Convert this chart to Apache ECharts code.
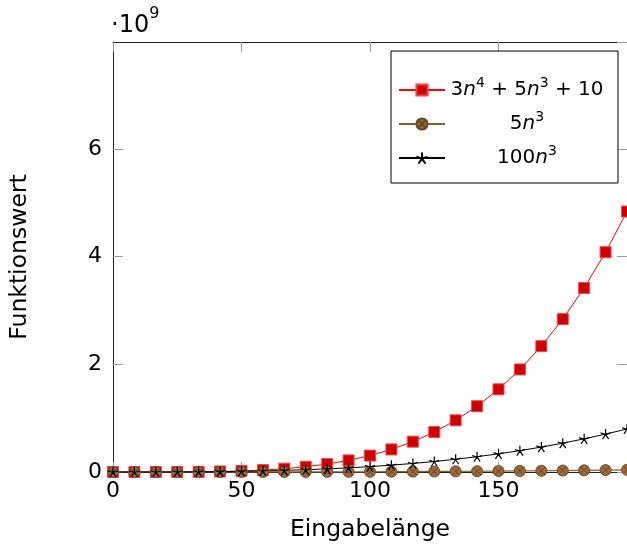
<!DOCTYPE html>
<html>
<head>
<meta charset="utf-8">
<script src="https://cdn.jsdelivr.net/npm/echarts@6/dist/echarts.min.js"></script>
<style>
  html, body { margin: 0; padding: 0; background: #fff; }
  #chart { width: 627px; height: 549px; }
</style>
</head>
<body>
<div id="chart"></div>
<script>
// sample points (Eingabelänge n)
const samples = [0, 8.33, 16.67, 25, 33.33, 41.67, 50, 58.33, 66.67, 75, 83.33, 91.67, 100,
  108.33, 116.67, 125, 133.33, 141.67, 150, 158.33, 166.67, 175, 183.33, 191.67, 200];

// function values, in units of 10^9
const quartic = [0, 0.0000174, 0.000255, 0.00125, 0.00389, 0.0094, 0.0194, 0.0357, 0.0607, 0.097,
  0.1476, 0.2157, 0.305, 0.4196, 0.5637, 0.7422, 0.96, 1.2225, 1.5356, 1.9053, 2.338, 2.8405,
  3.42, 4.0838, 4.84];
const cubicSmall = [0, 0.0000029, 0.0000231, 0.0000781, 0.000185, 0.000362, 0.000625, 0.000993,
  0.00148, 0.00211, 0.00289, 0.00385, 0.005, 0.00636, 0.00794, 0.00977, 0.01185, 0.01422,
  0.01688, 0.01985, 0.02315, 0.0268, 0.03081, 0.0352, 0.04];
const cubicBig = [0, 0.0000579, 0.000463, 0.00156, 0.0037, 0.00723, 0.0125, 0.01985, 0.02963,
  0.04219, 0.05787, 0.07703, 0.1, 0.12714, 0.1588, 0.1953, 0.237, 0.2843, 0.3375, 0.3969, 0.463,
  0.5359, 0.6162, 0.7041, 0.8];

const seriesNames = ["3n^4+5n^3+10", "5n^3", "100n^3"];
const legendLabels = {
  "3n^4+5n^3+10": "{t|3}{i|n}{s|4}{t| + 5}{i|n}{s|3}{t| + 10}",
  "5n^3": "{t|5}{i|n}{s|3}",
  "100n^3": "{t|100}{i|n}{s|3}"
};

const FONT = "DejaVu Sans";
const circleCross = "path://M0,5A5,5,0,1,1,10,5A5,5,0,1,1,0,5ZM1.5,1.5L8.5,8.5M8.5,1.5L1.5,8.5";
const starPath = "path://M5,0L5,5M0.245,3.455L5,5M2.061,9.045L5,5M7.939,9.045L5,5M9.755,3.455L5,5";

function pairs(values) {
  return samples.map((x, i) => [x, values[i]]);
}

const tickStyle = { show: true, inside: true, length: 10, lineStyle: { color: "#9a9a9a", width: 1 } };
const axisLine = { show: true, onZero: false, lineStyle: { color: "#222", width: 1 } };

const chart = echarts.init(document.getElementById("chart"), null, { renderer: "canvas" });

chart.setOption({
  animation: false,
  backgroundColor: "#fff",
  textStyle: { fontFamily: FONT },
  grid: { left: 112, right: -2, top: 42, bottom: 77 },
  xAxis: [
    {
      type: "value", min: 0, max: 200, interval: 50,
      name: "Eingabelänge", nameLocation: "middle", nameGap: 46,
      nameTextStyle: { fontSize: 23.5, color: "#000", fontFamily: FONT },
      axisLine: axisLine, axisTick: tickStyle, splitLine: { show: false },
      axisLabel: { fontSize: 22, color: "#000", margin: 8, showMaxLabel: false, fontFamily: FONT }
    },
    {
      type: "value", min: 0, max: 200, interval: 50, position: "top",
      axisLine: axisLine, axisTick: tickStyle, splitLine: { show: false },
      axisLabel: { show: false }
    }
  ],
  yAxis: [
    {
      type: "value", min: 0, max: 7.99, interval: 2,
      name: "Funktionswert", nameLocation: "middle", nameGap: 81,
      nameTextStyle: { fontSize: 23.5, color: "#000", fontFamily: FONT },
      axisLine: axisLine, axisTick: tickStyle, splitLine: { show: false },
      axisLabel: { fontSize: 22, color: "#000", margin: 11, showMaxLabel: false, fontFamily: FONT }
    },
    {
      type: "value", min: 0, max: 7.99, interval: 2, position: "right",
      axisLine: axisLine, axisTick: tickStyle, splitLine: { show: false },
      axisLabel: { show: false }
    }
  ],
  legend: {
    orient: "vertical",
    left: 391,
    top: 51,
    data: seriesNames,
    backgroundColor: "#fff",
    borderColor: "#000",
    borderWidth: 1,
    borderRadius: 0,
    padding: [25, 14, 11, 7],
    itemGap: 6,
    itemWidth: 46,
    itemHeight: 14,
    selectedMode: false,
    formatter: (name) => legendLabels[name],
    textStyle: {
      width: 154,
      lineHeight: 28,
      color: "#000",
      fontFamily: FONT,
      rich: {
        t: { fontSize: 20, lineHeight: 28, align: "center", fontFamily: FONT, color: "#000" },
        i: { fontSize: 20, lineHeight: 28, align: "center", fontStyle: "italic", fontFamily: FONT, color: "#000" },
        s: { fontSize: 14, lineHeight: 10, align: "center", verticalAlign: "top", fontFamily: FONT, color: "#000" }
      }
    }
  },
  graphic: [
    {
      type: "text",
      left: 111,
      top: 6,
      style: {
        text: "{a|·10}{b|9}",
        fill: "#000",
        rich: {
          a: { fontSize: 24, lineHeight: 32, fontFamily: FONT, verticalAlign: "bottom" },
          b: { fontSize: 16, lineHeight: 14, fontFamily: FONT, verticalAlign: "top" }
        }
      }
    }
  ],
  series: [
    {
      name: seriesNames[0],
      type: "line",
      data: pairs(quartic),
      clip: false,
      symbol: "rect",
      symbolSize: 11,
      lineStyle: { color: "#ff0000", width: 1 },
      itemStyle: { color: "#cc0000", borderColor: "#ff4040", borderWidth: 1 }
    },
    {
      name: seriesNames[1],
      type: "line",
      data: pairs(cubicSmall),
      clip: false,
      symbol: circleCross,
      symbolSize: 11,
      lineStyle: { color: "#8a5c2e", width: 1.2 },
      itemStyle: { color: "#9a6a3a", borderColor: "#6b4827", borderWidth: 1 }
    },
    {
      name: seriesNames[2],
      type: "line",
      data: pairs(cubicBig),
      clip: false,
      symbol: starPath,
      symbolSize: 10,
      lineStyle: { color: "#000", width: 1 },
      itemStyle: { color: "none", borderColor: "#000", borderWidth: 1.2 }
    }
  ]
});
</script>
</body>
</html>
